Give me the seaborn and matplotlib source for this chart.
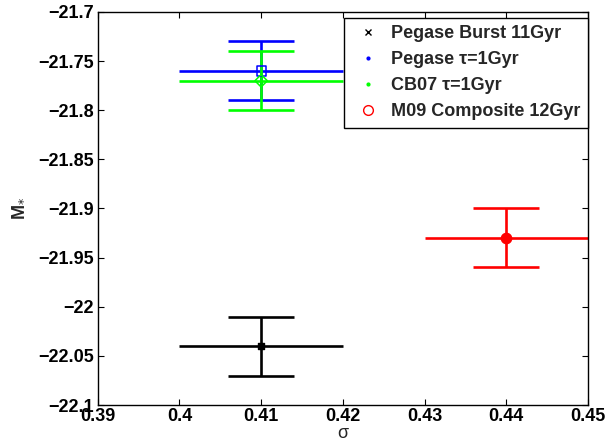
import numpy as np
import matplotlib
matplotlib.use("Agg")
import matplotlib.pyplot as plt
import seaborn as sns
from matplotlib.lines import Line2D
from matplotlib.ticker import FixedLocator, FuncFormatter

# ---- data ----
labels = ["Pegase Burst 11Gyr", "Pegase \u03c4=1Gyr", "CB07 \u03c4=1Gyr", "M09 Composite 12Gyr"]
sigma = [0.41, 0.41, 0.41, 0.44]
mstar = [-22.04, -21.76, -21.77, -21.93]
sigma_err = [0.01, 0.01, 0.01, 0.01]
mstar_err = [0.03, 0.03, 0.03, 0.03]
colors = ["#000000", "#0000ff", "#00ff00", "#ff0000"]
plot_markers = ["x", "s", "D", "o"]
legend_markers = ["x", ".", ".", "o"]
xticks = [0.39, 0.40, 0.41, 0.42, 0.43, 0.44, 0.45]
yticks = [-22.1, -22.05, -22.0, -21.95, -21.9, -21.85, -21.8, -21.75, -21.7]

sns.set_style("ticks")
plt.rcParams["font.family"] = ["Liberation Sans", "DejaVu Sans"]
plt.rcParams["axes.unicode_minus"] = True

fig = plt.figure(figsize=(6.05, 4.43), dpi=100)
ax = fig.add_axes([97.7 / 605, 1 - 405 / 443, (588 - 97.7) / 605, (405 - 12) / 443])

for i in range(len(labels)):
    c = colors[i]
    # vertical error bars with caps
    ax.errorbar(sigma[i], mstar[i], yerr=mstar_err[i], fmt="none", ecolor=c,
                elinewidth=1.9, capsize=24, capthick=1.9, zorder=2)
    # horizontal error bars without caps
    ax.errorbar(sigma[i], mstar[i], xerr=sigma_err[i], fmt="none", ecolor=c,
                elinewidth=1.9, capsize=0, zorder=2)
    mk = plot_markers[i]
    if mk == "x":
        sns.scatterplot(x=[sigma[i]], y=[mstar[i]], marker="s", s=20, color=c,
                        edgecolor=c, linewidth=1.0, ax=ax, legend=False, zorder=3)
    elif mk in ("s", "D"):
        sns.scatterplot(x=[sigma[i]], y=[mstar[i]], marker=mk, s=44 if mk == "s" else 40,
                        color=c, facecolor="none", edgecolor=c, linewidth=1.1,
                        ax=ax, legend=False, zorder=3)
    else:
        sns.scatterplot(x=[sigma[i]], y=[mstar[i]], marker="o", s=55, color=c,
                        edgecolor=c, linewidth=1.0, ax=ax, legend=False, zorder=3)

ax.set_xlim(0.39, 0.45)
ax.set_ylim(-22.1, -21.7)
ax.xaxis.set_major_locator(FixedLocator(xticks))
ax.yaxis.set_major_locator(FixedLocator(yticks))
fmt = FuncFormatter(lambda v, p: f"{round(v, 4):g}".replace("-", "\u2212"))
ax.xaxis.set_major_formatter(fmt)
ax.yaxis.set_major_formatter(fmt)
ax.tick_params(direction="in", top=True, right=True, length=4, width=0.8,
               labelsize=13, pad=2.5, colors="black")
for t in ax.get_xticklabels() + ax.get_yticklabels():
    t.set_fontweight("bold")
for sp in ax.spines.values():
    sp.set_visible(True)
    sp.set_color("black")
    sp.set_linewidth(1.0)

ax.set_xlabel("\u03c3", fontsize=13, labelpad=0)
ax.set_ylabel("M$_{*}$", fontsize=13, fontweight="bold", labelpad=9)

handles = []
for i in range(len(labels)):
    lm = legend_markers[i]
    if lm == "o":
        h = Line2D([], [], linestyle="none", marker="o", markersize=7, markerfacecolor="none",
                   markeredgecolor=colors[i], markeredgewidth=1.0)
    elif lm == "x":
        h = Line2D([], [], linestyle="none", marker="x", markersize=5, color=colors[i],
                   markeredgewidth=1.0)
    else:
        h = Line2D([], [], linestyle="none", marker=".", markersize=4, color=colors[i])
    handles.append(h)

leg = ax.legend(handles, labels, loc="upper right", bbox_to_anchor=(1.0, 1 - 5.5 / 393),
                borderaxespad=0, fancybox=False, framealpha=1, edgecolor="black",
                prop={"weight": "bold", "size": 13}, handlelength=1.8, handletextpad=0.4,
                labelspacing=0.5, borderpad=0.42)
leg.get_frame().set_linewidth(1.0)

fig.savefig("out.png", dpi=100)
